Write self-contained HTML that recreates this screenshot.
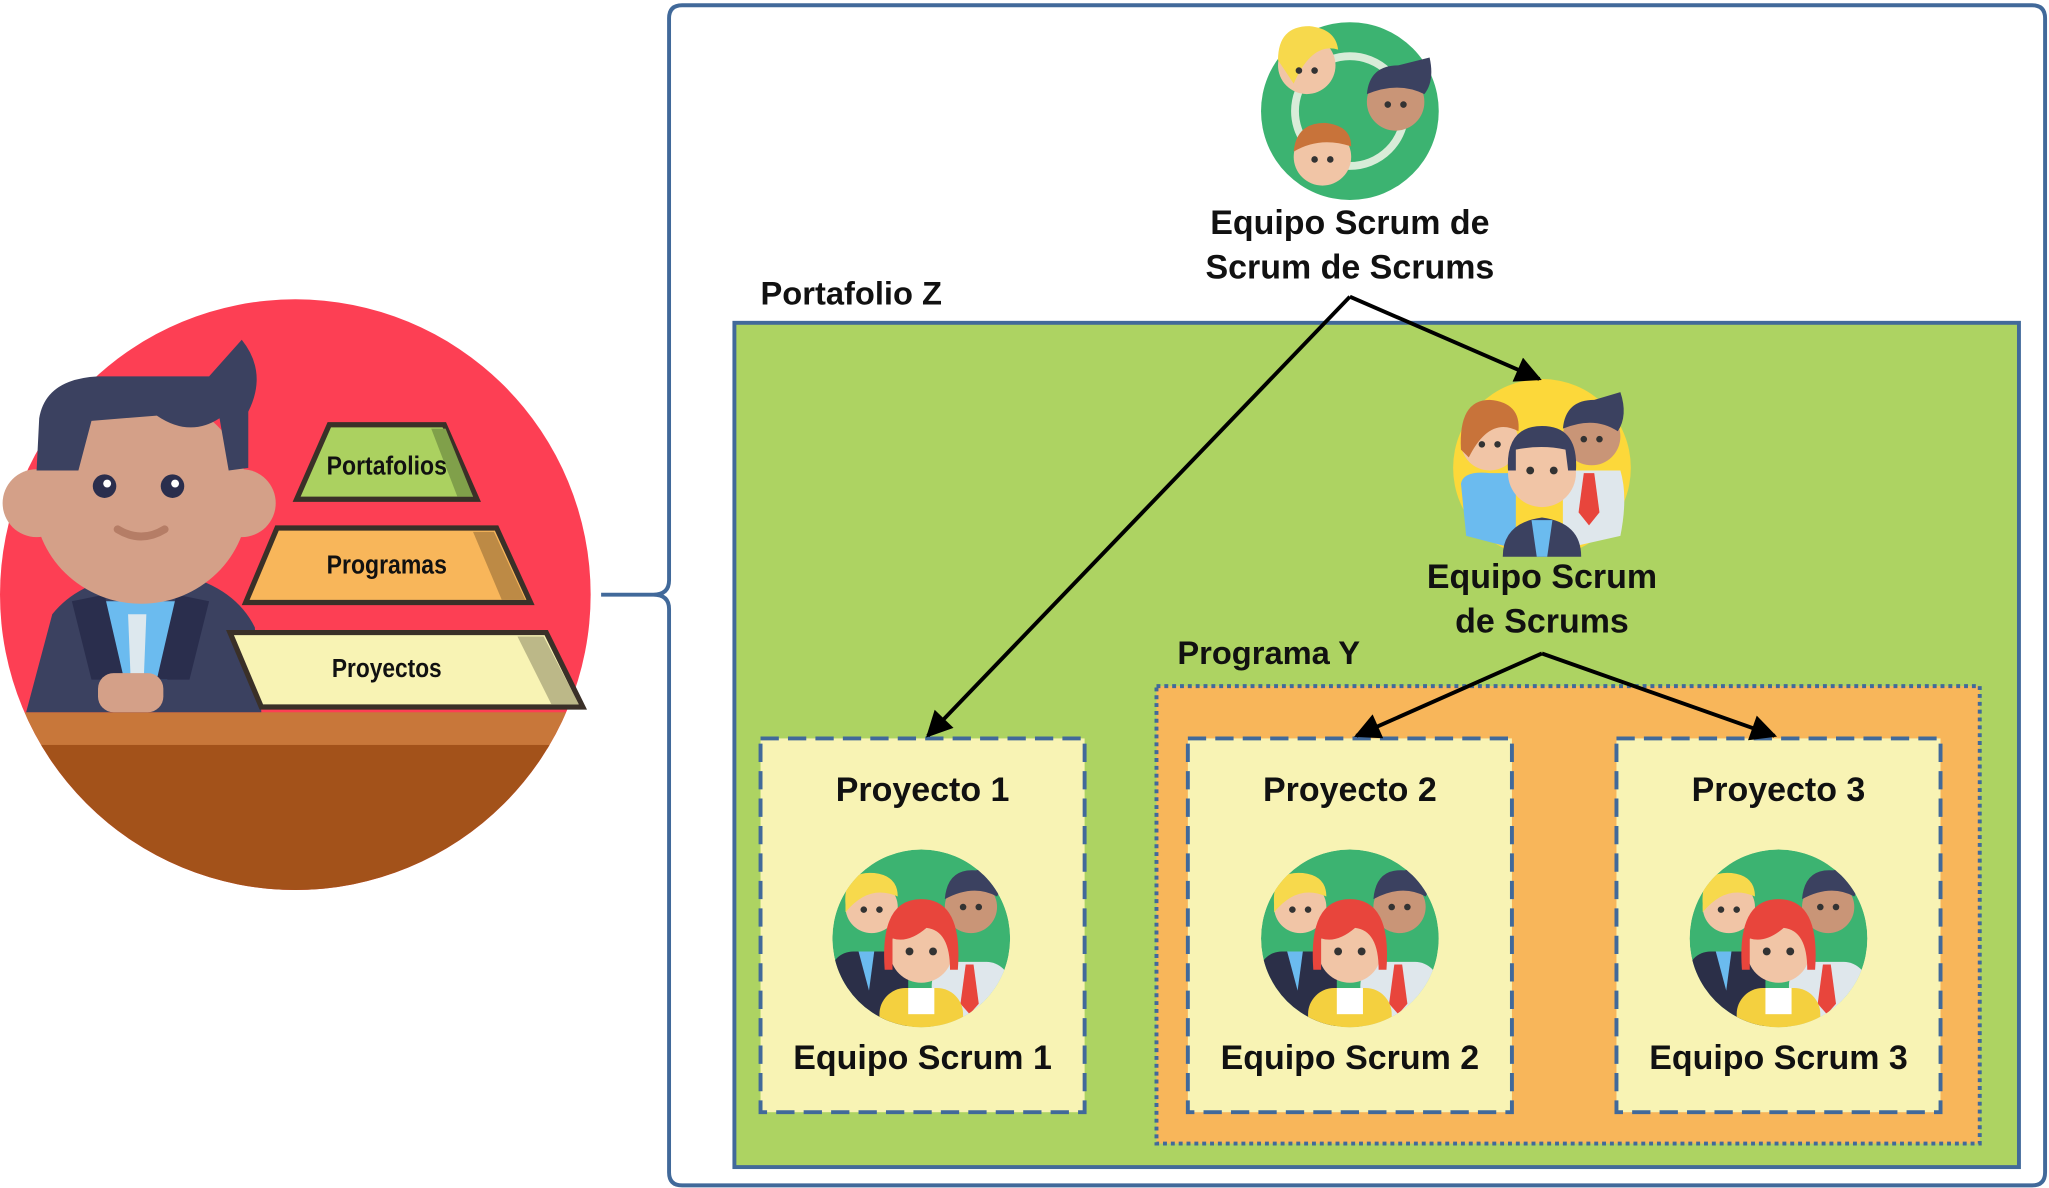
<!DOCTYPE html>
<html><head><meta charset="utf-8"><style>
html,body{margin:0;padding:0;background:#fff;}
svg{display:block}
text{font-family:"Liberation Sans",sans-serif;font-weight:bold;fill:#111}
</style></head><body>
<svg width="2049" height="1188" viewBox="0 0 1568 909" preserveAspectRatio="none" xmlns="http://www.w3.org/2000/svg">
<defs>
<marker id="ah" viewBox="0 0 10 10" refX="9" refY="5" markerWidth="22" markerHeight="20" orient="auto" markerUnits="userSpaceOnUse">
<path d="M0,0 L10,5 L0,10 z" fill="#000"/></marker>
<clipPath id="cl"><circle cx="0" cy="0" r="68"/></clipPath>
<g id="team">
 <g clip-path="url(#cl)">
  <circle cx="0" cy="0" r="68" fill="#3cb371"/>
  <rect x="8" y="18" width="60" height="60" rx="18" fill="#dfe7ec"/>
  <circle cx="38" cy="-24" r="20" fill="#c99577"/>
  <path d="M18,-30 Q20,-54 42,-52 L60,-58 Q64,-42 58,-32 Q40,-42 18,-30z" fill="#3b4160"/>
  <circle cx="32" cy="-24" r="2.5" fill="#333"/><circle cx="44" cy="-24" r="2.5" fill="#333"/>
  <path d="M34,20 L40,20 L44,50 L37,58 L30,50z" fill="#e8453c"/>
  <rect x="-70" y="10" width="60" height="70" rx="18" fill="#2b2f48"/>
  <path d="M-48,10 L-36,10 L-40,40z" fill="#6bbbef"/>
  <circle cx="-38" cy="-24" r="20" fill="#f1c5a6"/>
  <path d="M-58,-26 Q-60,-52 -36,-50 Q-18,-48 -18,-32 Q-40,-42 -58,-20z" fill="#f7d94c"/>
  <circle cx="-44" cy="-22" r="2.5" fill="#333"/><circle cx="-32" cy="-22" r="2.5" fill="#333"/>
  <rect x="-32" y="38" width="64" height="50" rx="20" fill="#f4d03f"/>
  <rect x="-10" y="38" width="20" height="20" fill="#fff"/>
  <circle cx="0" cy="10" r="24" fill="#f1c5a6"/>
  <path d="M-28,24 Q-32,-30 0,-30 Q32,-30 28,24 L22,24 Q22,-6 4,-8 Q-10,4 -22,0 L-22,24z" fill="#e8453c"/>
  <circle cx="-9" cy="10" r="3" fill="#333"/><circle cx="9" cy="10" r="3" fill="#333"/>
 </g>
</g>
</defs>

<path d="M522,4 L1555,4 Q1565,4 1565,14 L1565,897 Q1565,907 1555,907 L522,907 Q512,907 512,897 L512,466 Q512,455 500,455 L460,455 M500,455 Q512,455 512,444 L512,14 Q512,4 522,4" fill="none" stroke="#41699a" stroke-width="3"/>

<clipPath id="lc"><circle cx="226" cy="455" r="226"/></clipPath>
<g clip-path="url(#lc)">
 <rect x="0" y="228" width="460" height="460" fill="#fd3f54"/>
 <rect x="0" y="545" width="460" height="28" fill="#c8773a"/>
 <rect x="0" y="570" width="460" height="120" fill="#a3521a"/>
</g>
<path d="M20,545 L40,470 Q60,445 100,440 L140,440 Q180,450 195,480 L200,545z" fill="#3b4160"/>
<path d="M75,460 L140,460 L128,520 L88,520z" fill="#6bbbef"/>
<path d="M98,470 L112,470 L110,520 L100,520z" fill="#dde8ee"/>
<path d="M55,460 L80,455 L95,520 L70,520z" fill="#2a2e4d"/>
<path d="M160,460 L135,455 L120,520 L145,520z" fill="#2a2e4d"/>
<rect x="75" y="515" width="50" height="30" rx="12" fill="#d4a088"/>
<circle cx="28" cy="385" r="26" fill="#d4a088"/>
<circle cx="185" cy="385" r="26" fill="#d4a088"/>
<ellipse cx="108" cy="382" rx="82" ry="80" fill="#d4a088"/>
<path d="M28,360 L30,320 Q35,290 75,288 L160,288 L185,260 Q205,285 190,315 L190,358 L175,360 L168,320 Q145,335 120,318 L70,322 L60,360z" fill="#3b4160"/>
<circle cx="80" cy="372" r="9" fill="#2a2e4d"/><circle cx="82" cy="370" r="3" fill="#fff"/>
<circle cx="132" cy="372" r="9" fill="#2a2e4d"/><circle cx="134" cy="370" r="3" fill="#fff"/>
<path d="M90,405 Q108,416 126,405" stroke="#b57d66" stroke-width="6" fill="none" stroke-linecap="round"/>
<path d="M252,325 L340,325 L365,382 L227,382z" fill="#abd160" stroke="#3a3028" stroke-width="4"/>
<path d="M330,328 L341,328 L362,380 L350,380z" fill="#80a04a"/>
<text x="296" y="363" font-size="20" text-anchor="middle" fill="#3a3028" textLength="92" lengthAdjust="spacingAndGlyphs">Portafolios</text>
<path d="M212,404 L380,404 L406,461 L188,461z" fill="#f8b65a" stroke="#3a3028" stroke-width="4"/>
<path d="M362,407 L378,407 L402,459 L384,459z" fill="#bd8a45"/>
<text x="296" y="439" font-size="20" text-anchor="middle" fill="#3a3028" textLength="92" lengthAdjust="spacingAndGlyphs">Programas</text>
<path d="M176,484 L418,484 L446,541 L200,541z" fill="#f8f3b4" stroke="#3a3028" stroke-width="4"/>
<path d="M396,487 L416,487 L443,539 L422,539z" fill="#bcb888"/>
<text x="296" y="518" font-size="20" text-anchor="middle" fill="#3a3028" textLength="84" lengthAdjust="spacingAndGlyphs">Proyectos</text>

<text x="582" y="233" font-size="25">Portafolio Z</text>
<rect x="562" y="247" width="983" height="646" fill="#add362" stroke="#41699a" stroke-width="3"/>
<text x="901" y="508" font-size="25">Programa Y</text>
<rect x="885" y="525" width="630" height="350" fill="#f8b65a" stroke="#41699a" stroke-width="3" stroke-dasharray="3,3"/>
<g stroke="#41699a" stroke-width="3" stroke-dasharray="14,7" fill="#f8f3b4">
 <rect x="582" y="565" width="248" height="286"/>
 <rect x="909" y="565" width="248" height="286"/>
 <rect x="1237" y="565" width="248" height="286"/>
</g>
<g font-size="26" text-anchor="middle">
 <text x="706" y="613">Proyecto 1</text>
 <text x="1033" y="613">Proyecto 2</text>
 <text x="1361" y="613">Proyecto 3</text>
 <text x="706" y="818">Equipo Scrum 1</text>
 <text x="1033" y="818">Equipo Scrum 2</text>
 <text x="1361" y="818">Equipo Scrum 3</text>
 <text x="1033" y="179">Equipo Scrum de</text>
 <text x="1033" y="213">Scrum de Scrums</text>
 <text x="1180" y="450">Equipo Scrum</text>
 <text x="1180" y="484">de Scrums</text>
</g>
<use href="#team" x="705" y="718"/>
<use href="#team" x="1033" y="718"/>
<use href="#team" x="1361" y="718"/>

<circle cx="1033" cy="85" r="68" fill="#3cb371"/>
<circle cx="1033" cy="85" r="42" fill="none" stroke="#d8ecd8" stroke-width="6"/>
<circle cx="1000" cy="50" r="22" fill="#f1c5a6"/><path d="M978,46 Q978,20 1002,20 Q1022,22 1024,38 Q1004,32 990,64z" fill="#f7d94c"/>
<circle cx="994" cy="54" r="2.5" fill="#333"/><circle cx="1006" cy="54" r="2.5" fill="#333"/>
<circle cx="1068" cy="78" r="22" fill="#c99577"/><path d="M1046,72 Q1048,50 1070,50 L1094,44 Q1098,62 1090,72 Q1070,62 1046,72z" fill="#3b4160"/>
<circle cx="1062" cy="80" r="2.5" fill="#333"/><circle cx="1074" cy="80" r="2.5" fill="#333"/>
<circle cx="1012" cy="120" r="22" fill="#f1c5a6"/><path d="M990,116 Q992,94 1014,94 Q1034,96 1034,112 Q1010,104 990,116z" fill="#c8733a"/>
<circle cx="1006" cy="122" r="2.5" fill="#333"/><circle cx="1018" cy="122" r="2.5" fill="#333"/>

<circle cx="1180" cy="358" r="68" fill="#fcd83a"/>
<g>
 <circle cx="1140" cy="338" r="22" fill="#f1c5a6"/><path d="M1118,344 Q1116,306 1140,306 Q1164,308 1162,330 Q1140,318 1124,350z" fill="#c8733a"/>
 <circle cx="1134" cy="340" r="2.5" fill="#333"/><circle cx="1146" cy="340" r="2.5" fill="#333"/>
 <path d="M1118,370 Q1120,360 1140,362 L1160,362 L1160,420 L1122,410z" fill="#6bbbef"/>
 <circle cx="1218" cy="334" r="22" fill="#c99577"/><path d="M1196,328 Q1198,306 1220,306 L1240,300 Q1246,318 1238,330 Q1220,318 1196,328z" fill="#3b4160"/>
 <circle cx="1212" cy="336" r="2.5" fill="#333"/><circle cx="1224" cy="336" r="2.5" fill="#333"/>
 <path d="M1196,360 L1240,360 Q1246,380 1240,410 L1196,420z" fill="#dfe7ec"/>
 <path d="M1212,362 L1220,362 L1224,392 L1216,402 L1208,392z" fill="#e8453c"/>
 <path d="M1150,426 Q1150,400 1180,396 Q1210,400 1210,426z" fill="#3b4160"/>
 <path d="M1172,398 L1188,398 L1184,426 L1176,426z" fill="#6bbbef"/>
 <circle cx="1180" cy="362" r="26" fill="#f1c5a6"/>
 <path d="M1154,360 Q1152,326 1180,326 Q1208,326 1206,360 L1200,360 L1198,344 Q1180,340 1160,344 L1160,360z" fill="#3b4160"/>
 <circle cx="1171" cy="360" r="3" fill="#333"/><circle cx="1189" cy="360" r="3" fill="#333"/>
</g>

<g stroke="#000" stroke-width="3" fill="none">
 <path d="M1033,227 L710,563" marker-end="url(#ah)"/>
 <path d="M1033,227 L1178,290" marker-end="url(#ah)"/>
 <path d="M1180,500 L1038,563" marker-end="url(#ah)"/>
 <path d="M1180,500 L1358,563" marker-end="url(#ah)"/>
</g>
</svg>
</body></html>
